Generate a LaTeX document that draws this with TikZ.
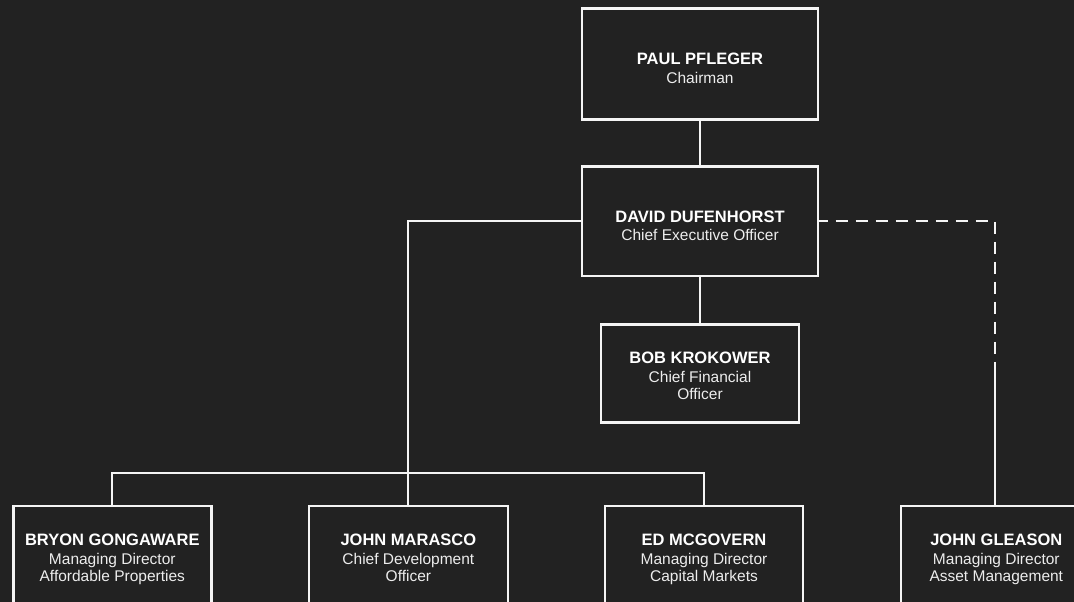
\documentclass[tikz,border=0pt]{standalone}
\usepackage{fontspec}
\setmainfont{Liberation Sans}
\definecolor{bg}{HTML}{222222}
\definecolor{fg}{HTML}{F5F5F5}
\definecolor{rolec}{HTML}{EDEDED}
\begin{document}
\begin{tikzpicture}[x=1pt,y=-1pt,
  box/.style={draw=fg, line width=2.6pt, fill=bg, rectangle, inner sep=0pt, outer sep=0pt},
  link/.style={draw=fg, line width=2pt},
  thinlink/.style={draw=fg, line width=1.4pt},
  dashlink/.style={draw=fg, line width=2pt, dash pattern=on 12pt off 8pt, dash phase=2.4pt},
  namet/.style={anchor=base, text=white, font=\fontsize{16.5}{18}\selectfont\bfseries, inner sep=0pt},
  rolet/.style={anchor=base, text=rolec, font=\fontsize{15.5}{17}\selectfont, inner sep=0pt}]
\useasboundingbox (0,0) rectangle (1074,602);
\clip (0,0) rectangle (1074,602);
\fill[bg] (0,0) rectangle (1074,602);

% boxes (positions)
\node[box, minimum width=236pt, minimum height=111pt] (paul) at (700,64) {};
\node[box, minimum width=236pt, minimum height=109.3pt] (ddf) at (700,221.3) {};
\node[box, minimum width=198.3pt, minimum height=98pt] (bob) at (700,373.7) {};
\node[box, minimum width=198pt, minimum height=154pt] (bryon) at (112.3,583) {};
\node[box, minimum width=199pt, minimum height=154pt] (jm) at (408.4,583) {};
\node[box, minimum width=198pt, minimum height=154pt] (ed) at (704,583) {};
\node[box, minimum width=188pt, minimum height=154pt] (jg) at (995,583) {};

% connectors
\coordinate (busy) at (0,472.7);
\coordinate (dj) at (995,373.3);
\draw[thinlink] (paul.south) -- (ddf.north);
\draw[thinlink] (ddf.south) -- (bob.north);
\draw[link] (ddf.west) -| (jm.north);
\draw[link] (bryon.north) -- (bryon.north |- busy) -- (ed.north |- busy) -- (ed.north);
\draw[dashlink] (ddf.east) -| (dj);
\draw[link] (dj) -- (jg.north);

% redraw box outlines over connector ends
\foreach \b in {paul,ddf,bob,bryon,jm,ed,jg} {
  \draw[fg, line width=2.6pt] (\b.north west) rectangle (\b.south east);
}

% texts
\node[namet] (paul-n) at (700,64.3) {PAUL PFLEGER};
\node[rolet] (paul-r) at (700,83.3) {Chairman};

\node[namet] (ddf-n) at (700,222.7) {DAVID DUFENHORST};
\node[rolet] (ddf-r) at (700,240) {Chief Executive Officer};

\node[namet] (bob-n) at (700,363) {BOB KROKOWER};
\node[rolet] (bob-r1) at (700,382.7) {Chief Financial};
\node[rolet] (bob-r2) at (700,399) {Officer};

\node[namet] (bryon-n) at (112.3,545.7) {BRYON GONGAWARE};
\node[rolet] (bryon-r1) at (112.3,564.3) {Managing Director};
\node[rolet] (bryon-r2) at (112.3,581) {Affordable Properties};

\node[namet] (jm-n) at (408.4,545.7) {JOHN MARASCO};
\node[rolet] (jm-r1) at (408.4,564.7) {Chief Development};
\node[rolet] (jm-r2) at (408.4,581.5) {Officer};

\node[namet] (ed-n) at (704,545.7) {ED MCGOVERN};
\node[rolet] (ed-r1) at (704,564.3) {Managing Director};
\node[rolet] (ed-r2) at (704,581) {Capital Markets};

\node[namet] (jg-n) at (996.3,545.3) {JOHN GLEASON};
\node[rolet] (jg-r1) at (996.3,564.3) {Managing Director};
\node[rolet] (jg-r2) at (996.3,581) {Asset Management};
\end{tikzpicture}
\end{document}
